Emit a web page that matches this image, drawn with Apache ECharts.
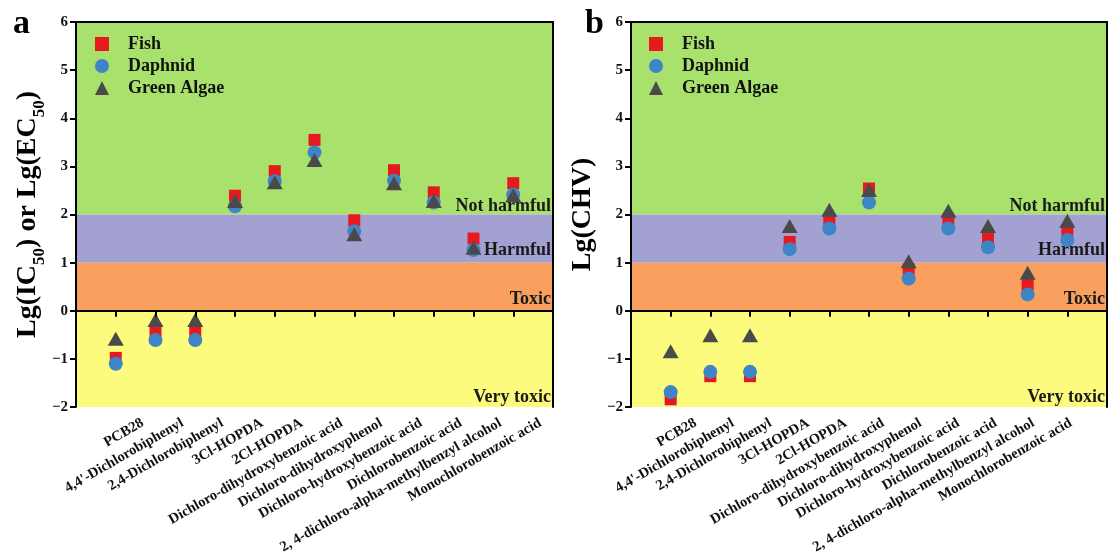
<!DOCTYPE html>
<html>
<head>
    <meta charset="utf-8">
    <title>Toxicity of PCB28 and metabolites</title>
    <script src="https://cdn.jsdelivr.net/npm/echarts@6/dist/echarts.min.js"></script>
    <style>
        html, body { margin: 0; padding: 0; background: #fff; }
    </style>
</head>
<body>
    <div id="chart" style="width: 1111px; height: 557px;"></div>

    <script>
        // compounds on the x axis (same for both panels)
        var compounds = ['PCB28', "4,4'-Dichlorobiphenyl", '2,4-Dichlorobiphenyl', '3Cl-HOPDA', '2Cl-HOPDA',
            'Dichloro-dihydroxybenzoic acid', 'Dichloro-dihydroxyphenol', 'Dichloro-hydroxybenzoic acid',
            'Dichlorobenzoic acid', '2, 4-dichloro-alpha-methylbenzyl alcohol', 'Monochlorobenzoic acid'];

        // panel a: Lg(IC50) or Lg(EC50)
        var fishA = [-0.98, -0.46, -0.46, 2.39, 2.90, 3.55, 1.88, 2.92, 2.46, 1.50, 2.65];
        var daphnidA = [-1.10, -0.61, -0.61, 2.17, 2.69, 3.29, 1.65, 2.70, 2.25, 1.26, 2.41];
        var algaeA = [-0.58, -0.19, -0.19, 2.28, 2.67, 3.13, 1.59, 2.65, 2.28, 1.31, 2.40];

        // panel b: Lg(CHV)
        var fishB = [-1.84, -1.36, -1.36, 1.43, 1.90, 2.54, 0.86, 1.90, 1.49, 0.53, 1.66];
        var daphnidB = [-1.69, -1.27, -1.27, 1.28, 1.71, 2.25, 0.67, 1.71, 1.32, 0.34, 1.47];
        var algaeB = [-0.84, -0.51, -0.51, 1.76, 2.10, 2.51, 1.03, 2.08, 1.76, 0.79, 1.87];

        // hazard bands
        var bandNames = ['Not harmful', 'Harmful', 'Toxic', 'Very toxic'];
        var bandFrom = [2, 1, 0, -2];
        var bandTo = [6, 2, 1, 0];
        var bandColors = ['#a8e26c', '#a3a1d1', '#f9a05f', '#fdfb7e'];
        var bandLift = [3, -1, 0, 1];

        var serif = '"Liberation Serif", "Times New Roman", serif';
        var xCats = [''].concat(compounds).concat(['']);

        var chart = echarts.init(document.getElementById('chart'));

        function pts(arr) {
            return arr.map(function (v, i) { return [i + 1, v]; });
        }

        function bands() {
            return bandNames.map(function (name, i) {
                return [
                    {
                        yAxis: bandFrom[i], name: name, itemStyle: { color: bandColors[i] },
                        label: { offset: [0, bandLift[i]] }
                    },
                    { yAxis: bandTo[i] }
                ];
            });
        }

        function panelSeries(idx, fish, daph, algae) {
            var ax = idx * 3;
            return [
                {
                    type: 'scatter', name: 'bands', xAxisIndex: ax, yAxisIndex: ax,
                    data: [], silent: true,
                    markArea: {
                        silent: true,
                        itemStyle: { opacity: 1 },
                        label: {
                            show: true, position: 'insideBottomRight', distance: 2,
                            fontFamily: serif, fontWeight: 'bold', fontSize: 18, color: '#1a1a1a'
                        },
                        data: bands()
                    }
                },
                {
                    type: 'scatter', name: 'Fish', xAxisIndex: ax, yAxisIndex: ax,
                    symbol: 'rect', symbolSize: 12, itemStyle: { color: '#e5191e', opacity: 1 },
                    data: pts(fish), z: 3
                },
                {
                    type: 'scatter', name: 'Daphnid', xAxisIndex: ax, yAxisIndex: ax,
                    symbol: 'circle', symbolSize: 14, itemStyle: { color: '#3d85c6', opacity: 1 },
                    data: pts(daph), z: 4
                },
                {
                    type: 'scatter', name: 'Green Algae', xAxisIndex: ax, yAxisIndex: ax,
                    symbol: 'triangle', symbolSize: [16, 14], itemStyle: { color: '#4a4a4a', opacity: 1 },
                    data: pts(algae), z: 5
                }
            ];
        }

        // main x axis, top frame line, and a label-only axis on a grid shifted right
        function xAxes(grid, labelGrid) {
            return [
                {
                    type: 'category', gridIndex: grid, data: xCats, boundaryGap: false,
                    axisLine: { lineStyle: { color: '#000', width: 2 } },
                    axisTick: { show: true, interval: 0, length: 6, lineStyle: { width: 2 } },
                    axisLabel: { show: false },
                    splitLine: { show: false }, z: 10
                },
                {
                    type: 'category', gridIndex: grid, data: xCats, boundaryGap: false, position: 'top',
                    axisLine: { onZero: false, lineStyle: { color: '#000', width: 2 } },
                    axisTick: { show: false }, axisLabel: { show: false }, z: 10
                },
                {
                    type: 'category', gridIndex: labelGrid, data: xCats, boundaryGap: false,
                    axisLine: { show: false }, axisTick: { show: false },
                    axisLabel: {
                        interval: 0, rotate: 30, margin: 15, color: '#111',
                        fontFamily: serif, fontWeight: 'bold', fontSize: 14.5
                    }
                }
            ];
        }

        function yAxes(grid, labelGrid, name, nameGap) {
            return [
                {
                    type: 'value', gridIndex: grid, min: -2, max: 6, interval: 1,
                    name: name, nameLocation: 'middle', nameGap: nameGap,
                    nameTextStyle: {
                        fontFamily: serif, fontWeight: 'bold', fontSize: 28, color: '#000', lineHeight: 40,
                        rich: {
                            sub: { fontFamily: serif, fontWeight: 'bold', fontSize: 17, verticalAlign: 'bottom', lineHeight: 40 }
                        }
                    },
                    axisLine: { show: true, lineStyle: { color: '#000', width: 2 } },
                    axisTick: { show: true, length: 6, lineStyle: { width: 2 } },
                    axisLabel: {
                        color: '#111', fontFamily: serif, fontWeight: 'bold', fontSize: 15, margin: 8,
                        formatter: function (v) { return v < 0 ? '\u2212' + Math.abs(v) : v; }
                    },
                    splitLine: { show: false }, z: 10
                },
                {
                    type: 'value', gridIndex: grid, min: -2, max: 6, interval: 1, position: 'right',
                    axisLine: { show: true, lineStyle: { color: '#000', width: 2 } },
                    axisTick: { show: false }, axisLabel: { show: false }, splitLine: { show: false }, z: 10
                },
                {
                    type: 'value', gridIndex: labelGrid, min: -2, max: 6, show: false
                }
            ];
        }

        function legend(left) {
            return {
                left: left, top: 30, orient: 'vertical', itemGap: 4, itemWidth: 14, itemHeight: 14,
                data: ['Fish', 'Daphnid', 'Green Algae'],
                textStyle: { fontFamily: serif, fontWeight: 'bold', fontSize: 18, color: '#111', padding: [0, 0, 0, 14] }
            };
        }

        var options = {
            animation: false,
            title: [
                { text: 'a', left: 8, top: 2, textStyle: { fontFamily: serif, fontWeight: 'bold', fontSize: 34, color: '#000' } },
                { text: 'b', left: 580, top: 2, textStyle: { fontFamily: serif, fontWeight: 'bold', fontSize: 34, color: '#000' } }
            ],
            legend: [legend(90), legend(644)],
            grid: [
                { left: 76, top: 22, width: 477, height: 385 },
                { left: 631, top: 22, width: 476, height: 385 },
                { left: 103, top: 22, width: 477, height: 385 },
                { left: 658, top: 22, width: 476, height: 385 }
            ],
            xAxis: xAxes(0, 2).concat(xAxes(1, 3)),
            yAxis: yAxes(0, 2, 'Lg(IC{sub|50}) or Lg(EC{sub|50})', 28).concat(yAxes(1, 3, 'Lg(CHV)', 12)),
            series: panelSeries(0, fishA, daphnidA, algaeA).concat(panelSeries(1, fishB, daphnidB, algaeB))
        };

        chart.setOption(options);
    </script>
</body>
</html>
